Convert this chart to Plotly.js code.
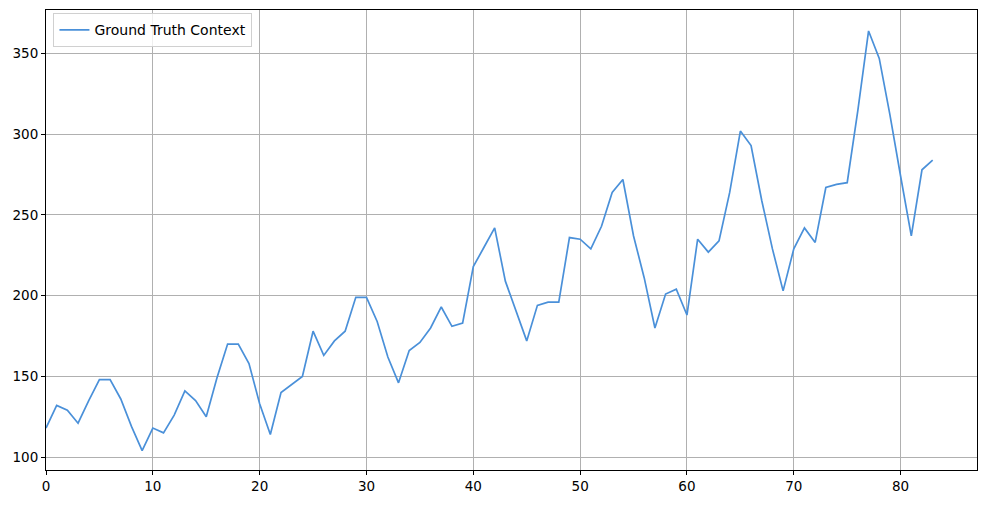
<!DOCTYPE html>
<html><head><meta charset="utf-8">
<script src="https://cdn.plot.ly/plotly-3.0.1.min.js"></script>
<style>html,body{margin:0;padding:0;background:#fff;}#chart{width:986px;height:505px;}</style>
</head><body><div id="chart"></div>
<script>
const seriesName = "Ground Truth Context";
const values = [118,132,129,121,135,148,148,136,119,104,118,
115,126,141,135,125,149,170,170,158,133,114,140,
145,150,178,163,172,178,199,199,184,162,146,166,
171,180,193,181,183,218,230,242,209,191,172,194,
196,196,236,235,229,243,264,272,237,211,180,201,
204,188,235,227,234,264,302,293,259,229,203,229,
242,233,267,269,270,315,364,347,312,274,237,278,
284];
const xIdx = values.map((v,i)=>i);
const xTicks = [0,10,20,30,40,50,60,70,80];
const yTicks = [100,150,200,250,300,350];

const trace = {x:xIdx, y:values, type:'scatter', mode:'lines', name:seriesName,
  line:{color:'#4a90d9', width:1.7}};
const axisCommon = {showline:true, linecolor:'#000', linewidth:1, mirror:true,
  ticks:'outside', ticklen:4, tickcolor:'#000', showgrid:true, gridcolor:'#b0b0b0', gridwidth:1,
  zeroline:false, tickfont:{family:'DejaVu Sans', size:13.5, color:'#000'}};
const layout = {
  width:986, height:505,
  margin:{l:46, r:9, t:10, b:35},
  paper_bgcolor:'#fff', plot_bgcolor:'#fff',
  showlegend:true,
  legend:{x:0.008, y:0.993, xanchor:'left', yanchor:'top', bgcolor:'rgba(255,255,255,0.8)',
    bordercolor:'#d0d0d0', borderwidth:1, font:{family:'DejaVu Sans', size:14, color:'#000'}},
  xaxis:Object.assign({}, axisCommon, {range:[0,87.15], tickvals:xTicks, ticktext:xTicks.map(String)}),
  yaxis:Object.assign({}, axisCommon, {range:[92,377], tickvals:yTicks, ticktext:yTicks.map(String)})
};
Plotly.newPlot('chart',[trace],layout,{staticPlot:true});
</script></body></html>
